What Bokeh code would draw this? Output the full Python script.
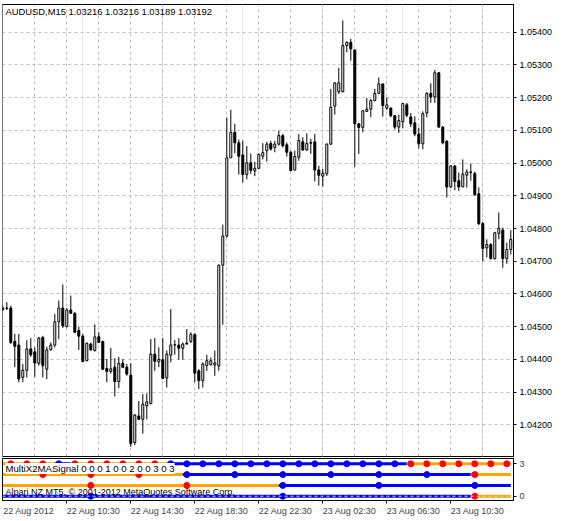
from bokeh.plotting import figure
from bokeh.models import Range1d, FixedTicker, PrintfTickFormatter, Grid, Label, Span, ColumnDataSource
from bokeh.layouts import column
from bokeh.embed import file_html
from bokeh.resources import INLINE

# ---------------- data (AUDUSD M15) ----------------
opens = [1.04552, 1.04557, 1.04557, 1.04455, 1.04444, 1.04345, 1.04367, 1.04432, 1.04423, 1.04388,
         1.04467, 1.04370, 1.04429, 1.04444, 1.04515, 1.04557, 1.04500, 1.04551, 1.04541, 1.04488,
         1.04471, 1.04396, 1.04447, 1.04427, 1.04469, 1.04455, 1.04372, 1.04363, 1.04376, 1.04332,
         1.04388, 1.04376, 1.04352, 1.04146, 1.04227, 1.04217, 1.04258, 1.04265, 1.04416, 1.04393,
         1.04399, 1.04343, 1.04413, 1.04444, 1.04444, 1.04434, 1.04450, 1.04455, 1.04476, 1.04365,
         1.04335, 1.04381, 1.04384, 1.04383, 1.04380, 1.04688, 1.04777, 1.05016, 1.05094, 1.05062,
         1.05025, 1.04965, 1.05001, 1.04976, 1.04984, 1.05021, 1.05038, 1.05060, 1.05048, 1.05058,
         1.05084, 1.05056, 1.05033, 1.04979, 1.05018, 1.05065, 1.05040, 1.05063, 1.05065, 1.04979,
         1.04960, 1.04967, 1.05058, 1.05174, 1.05218, 1.05218, 1.05359, 1.05369, 1.05346, 1.05120,
         1.05109, 1.05158, 1.05165, 1.05191, 1.05213, 1.05242, 1.05168, 1.05168, 1.05145, 1.05110,
         1.05126, 1.05178, 1.05141, 1.05123, 1.05089, 1.05059, 1.05153, 1.05213, 1.05202, 1.05276,
         1.05110, 1.05067, 1.04927, 1.04991, 1.04946, 1.04927, 1.04963, 1.04973, 1.04968, 1.04906,
         1.04815, 1.04741, 1.04751, 1.04708, 1.04785, 1.04795, 1.04708, 1.04736]
highs = [1.04564, 1.04575, 1.04564, 1.04478, 1.04478, 1.04386, 1.04459, 1.04465, 1.04437, 1.04469,
         1.04472, 1.04439, 1.04452, 1.04539, 1.04580, 1.04629, 1.04557, 1.04595, 1.04544, 1.04500,
         1.04478, 1.04452, 1.04451, 1.04507, 1.04483, 1.04457, 1.04401, 1.04435, 1.04404, 1.04408,
         1.04401, 1.04386, 1.04388, 1.04233, 1.04273, 1.04294, 1.04296, 1.04462, 1.04465, 1.04437,
         1.04465, 1.04427, 1.04554, 1.04459, 1.04465, 1.04452, 1.04493, 1.04483, 1.04480, 1.04370,
         1.04391, 1.04414, 1.04406, 1.04427, 1.04690, 1.04812, 1.05139, 1.05163, 1.05120, 1.05072,
         1.05069, 1.05052, 1.05029, 1.05004, 1.05029, 1.05061, 1.05065, 1.05068, 1.05068, 1.05099,
         1.05089, 1.05063, 1.05038, 1.05038, 1.05089, 1.05079, 1.05091, 1.05074, 1.05089, 1.04992,
         1.04982, 1.05060, 1.05227, 1.05247, 1.05291, 1.05436, 1.05372, 1.05380, 1.05346, 1.05120,
         1.05162, 1.05199, 1.05196, 1.05227, 1.05262, 1.05242, 1.05201, 1.05170, 1.05147, 1.05148,
         1.05184, 1.05184, 1.05153, 1.05143, 1.05108, 1.05158, 1.05217, 1.05244, 1.05285, 1.05278,
         1.05113, 1.05069, 1.04994, 1.04994, 1.04971, 1.05011, 1.04981, 1.04998, 1.04974, 1.04926,
         1.04820, 1.04767, 1.04755, 1.04790, 1.04849, 1.04803, 1.04757, 1.04795]
lows = [1.04548, 1.04551, 1.04447, 1.04376, 1.04330, 1.04330, 1.04345, 1.04408, 1.04347, 1.04381,
        1.04345, 1.04340, 1.04427, 1.04437, 1.04462, 1.04496, 1.04498, 1.04539, 1.04480, 1.04429,
        1.04391, 1.04394, 1.04427, 1.04424, 1.04450, 1.04368, 1.04330, 1.04357, 1.04287, 1.04312,
        1.04373, 1.04350, 1.04133, 1.04138, 1.04215, 1.04173, 1.04217, 1.04263, 1.04365, 1.04376,
        1.04340, 1.04314, 1.04391, 1.04414, 1.04399, 1.04399, 1.04445, 1.04450, 1.04330, 1.04309,
        1.04314, 1.04365, 1.04381, 1.04350, 1.04365, 1.04506, 1.04772, 1.05016, 1.05030, 1.04965,
        1.04940, 1.04950, 1.04967, 1.04960, 1.04981, 1.05011, 1.05005, 1.05038, 1.05033, 1.05053,
        1.05048, 1.05020, 1.04975, 1.04977, 1.05007, 1.05038, 1.05038, 1.05028, 1.04944, 1.04931,
        1.04928, 1.04961, 1.05055, 1.05148, 1.05211, 1.05216, 1.05339, 1.05313, 1.04989, 1.05028,
        1.05094, 1.05157, 1.05140, 1.05189, 1.05211, 1.05142, 1.05162, 1.05140, 1.05103, 1.05092,
        1.05106, 1.05140, 1.05110, 1.05082, 1.05045, 1.05042, 1.05140, 1.05184, 1.05184, 1.05108,
        1.05057, 1.04895, 1.04923, 1.04917, 1.04915, 1.04927, 1.04925, 1.04946, 1.04900, 1.04810,
        1.04700, 1.04712, 1.04705, 1.04705, 1.04767, 1.04680, 1.04692, 1.04721]
closes = [1.04557, 1.04556, 1.04452, 1.04440, 1.04340, 1.04367, 1.04432, 1.04414, 1.04389, 1.04465,
          1.04381, 1.04429, 1.04444, 1.04515, 1.04557, 1.04503, 1.04551, 1.04541, 1.04483, 1.04471,
          1.04394, 1.04449, 1.04429, 1.04469, 1.04452, 1.04370, 1.04363, 1.04371, 1.04332, 1.04388,
          1.04376, 1.04355, 1.04143, 1.04230, 1.04217, 1.04263, 1.04270, 1.04416, 1.04394, 1.04400,
          1.04342, 1.04416, 1.04444, 1.04445, 1.04434, 1.04447, 1.04447, 1.04476, 1.04358, 1.04335,
          1.04386, 1.04396, 1.04396, 1.04389, 1.04688, 1.04777, 1.05016, 1.05094, 1.05062, 1.05021,
          1.04965, 1.05001, 1.04978, 1.04984, 1.05027, 1.05032, 1.05058, 1.05043, 1.05058, 1.05084,
          1.05053, 1.05033, 1.04977, 1.05020, 1.05069, 1.05040, 1.05060, 1.05061, 1.04979, 1.04963,
          1.04969, 1.05058, 1.05170, 1.05245, 1.05245, 1.05359, 1.05369, 1.05349, 1.05120, 1.05109,
          1.05160, 1.05165, 1.05191, 1.05213, 1.05242, 1.05176, 1.05178, 1.05145, 1.05110, 1.05130,
          1.05182, 1.05146, 1.05120, 1.05089, 1.05059, 1.05151, 1.05213, 1.05202, 1.05276, 1.05110,
          1.05062, 1.04927, 1.04991, 1.04944, 1.04927, 1.04966, 1.04973, 1.04971, 1.04903, 1.04815,
          1.04739, 1.04751, 1.04708, 1.04787, 1.04801, 1.04708, 1.04736, 1.04767]

price_ticks = [1.042, 1.043, 1.044, 1.045, 1.046, 1.047, 1.048, 1.049, 1.050, 1.051, 1.052, 1.053, 1.054]
grid_bars = [8, 16, 24, 32, 40, 48, 56, 64, 72, 80, 88, 96, 104, 112, 120]
time_tick_bars = [16, 32, 48, 64, 80, 96, 112]
time_tick_labels = ["22 Aug 10:30", "22 Aug 14:30", "22 Aug 18:30", "22 Aug 22:30",
                    "23 Aug 02:30", "23 Aug 06:30", "23 Aug 10:30"]
first_label = "22 Aug 2012"
title_text = "AUDUSD,M15  1.03216 1.03216 1.03189 1.03192"
ind_text = "MultiX2MASignal 0 0 0 1 0 0 2 0 0 3 0 3"
copy_text = "Alpari NZ MT5, \u00a9 2001-2012 MetaQuotes Software Corp."

# MultiX2MASignal rows: (row level, bar index where each higher-TF bar starts, state 1=up/blue 0=down/orange)
h1_starts = [-2, 2, 6, 10, 14, 18, 22, 26, 30, 34, 38, 42, 46, 50, 54, 58, 62, 66, 70, 74, 78, 82,
             86, 90, 94, 98, 102, 106, 110, 114, 118, 122, 126]
h1_states = [0, 0, 0, 0, 1, 0, 0, 0, 0, 0, 0, 1, 1, 1, 1, 1, 1, 1, 1, 1, 1, 1,
             1, 1, 1, 1, 0, 0, 0, 0, 0, 0, 0]
h3_starts = [-2, 10, 22, 34, 46, 58, 70, 82, 94, 106, 118]
h3_states = [0, 0, 0, 0, 1, 1, 1, 1, 1, 1, 0]
h6_starts = [-2, 22, 46, 70, 94, 118]
h6_states = [0, 0, 0, 1, 1, 1]
h12_starts = [-26, 22, 70, 118]
h12_states = [1, 1, 1, 0]
rows = [(3, h1_starts, h1_states), (2, h3_starts, h3_states),
        (1, h6_starts, h6_states), (0, h12_starts, h12_states)]

# ---------------- styling / layout ----------------
FONT = "Liberation Sans"
GRID_COLOR = "#c0c0c0"
BLUE = "#0000ff"
ORANGE = "#ffa500"
RED = "#ff0000"

n = len(opens)
bars = list(range(n))
X_RANGE = (-0.075, 127.675)
PX_PER_BAR = 511 / (X_RANGE[1] - X_RANGE[0])

src = ColumnDataSource(dict(
    k=bars, low=lows, high=highs,
    top=[max(o, c) for o, c in zip(opens, closes)],
    bottom=[min(o, c) for o, c in zip(opens, closes)],
    fill=["white" if c >= o else "black" for o, c in zip(opens, closes)],
))

# main chart: frame x 2..513, y 4..456
p1 = figure(width=560, height=457, x_range=Range1d(*X_RANGE), y_range=Range1d(1.041032, 1.054847),
            x_axis_location=None, y_axis_location="right", toolbar_location=None, tools="",
            output_backend="svg", min_border_left=2, min_border_right=47,
            min_border_top=4, min_border_bottom=1)
p1.background_fill_color = "white"
p1.border_fill_color = "white"
p1.outline_line_color = "black"
p1.outline_line_width = 1

ax = p1.yaxis[0]
ax.ticker = FixedTicker(ticks=price_ticks)
ax.formatter = PrintfTickFormatter(format="%.5f")
ax.major_tick_in = 0
ax.major_tick_out = 3
ax.minor_tick_in = 0
ax.minor_tick_out = 0
ax.axis_line_color = "black"
ax.major_tick_line_color = "black"
ax.major_label_text_font = FONT
ax.major_label_text_font_size = "9px"
ax.major_label_text_color = "black"
ax.major_label_standoff = 3

for g in p1.ygrid:
    g.grid_line_color = GRID_COLOR
    g.grid_line_dash = "3 3"
p1.add_layout(Grid(dimension=0, ticker=FixedTicker(ticks=grid_bars),
                   grid_line_color=GRID_COLOR, grid_line_dash="3 3"))

p1.segment(x0="k", y0="low", x1="k", y1="high", source=src, line_color="black", line_width=1)
p1.vbar(x="k", width=0.5, top="top", bottom="bottom", source=src,
        fill_color="fill", line_color="black", line_width=1)

p1.add_layout(Label(x=3, y=445, x_units="screen", y_units="screen", text=title_text,
                    text_font=FONT, text_font_size="9.4px", text_color="black",
                    text_baseline="middle", text_align="left"))

# indicator sub window: frame y 458..500
p2 = figure(width=560, height=62, x_range=p1.x_range, y_range=Range1d(-0.398, 3.491),
            x_axis_location="below", y_axis_location="right", toolbar_location=None, tools="",
            output_backend="svg", min_border_left=2, min_border_right=47,
            min_border_top=1, min_border_bottom=19)
p2.background_fill_color = "white"
p2.border_fill_color = "white"
p2.outline_line_color = "black"
p2.outline_line_width = 1
p2.xgrid.visible = False
p2.ygrid.visible = False

for level, starts, states in rows:
    per_bar = []
    for k in bars:
        s = states[0]
        for st, v in zip(starts, states):
            if st <= k:
                s = v
        per_bar.append(s)
    xs_list, ys_list, cols = [], [], []
    a = 0
    while a < n:
        b = a
        while b + 1 < n and per_bar[b + 1] == per_bar[a]:
            b += 1
        xs = list(range(max(a - 1, 0), b + 1))
        xs_list.append(xs)
        ys_list.append([level] * len(xs))
        cols.append(BLUE if per_bar[a] == 1 else ORANGE)
        a = b + 1
    p2.multi_line(xs=xs_list, ys=ys_list, line_color=cols, line_width=3)
    dx = [st for st in starts if 0 <= st < n]
    dc = [BLUE if v == 1 else RED for st, v in zip(starts, states) if 0 <= st < n]
    p2.scatter(x=dx, y=[level] * len(dx), size=6, fill_color=dc, line_color=dc, marker="circle")

p2.add_layout(Span(location=0, dimension="width", line_color="#d0d0d0", line_dash="3 3", line_width=1))

ay = p2.yaxis[0]
ay.ticker = FixedTicker(ticks=[0, 3])
ay.formatter = PrintfTickFormatter(format="%d")
ay.major_tick_in = 0
ay.major_tick_out = 3
ay.minor_tick_out = 0
ay.axis_line_color = "black"
ay.major_label_text_font = FONT
ay.major_label_text_font_size = "9px"
ay.major_label_standoff = 3

# x axis: tick marks (minor ticks) at the real times, left-aligned labels placed via major ticks
label_w = 53.5 / PX_PER_BAR / 2
first_center = round(X_RANGE[0] + (0.7 + 25.5) / PX_PER_BAR, 2)
centers = [first_center] + [round(t + label_w, 2) for t in time_tick_bars]
overrides = {c: t for c, t in zip(centers, [first_label] + time_tick_labels)}
axx = p2.xaxis[0]
axx.ticker = FixedTicker(ticks=centers, minor_ticks=time_tick_bars)
axx.major_label_overrides = overrides
axx.major_tick_in = 0
axx.major_tick_out = 0
axx.minor_tick_in = 0
axx.minor_tick_out = 3
axx.minor_tick_line_color = "black"
axx.axis_line_color = "black"
axx.major_label_text_font = FONT
axx.major_label_text_font_size = "9px"
axx.major_label_standoff = 2

p2.add_layout(Label(x=3, y=32, x_units="screen", y_units="screen", text=ind_text,
                    text_font=FONT, text_font_size="9.6px", text_color="black",
                    text_baseline="middle", text_align="left",
                    background_fill_color="white", padding=0))
p2.add_layout(Label(x=3, y=8.3, x_units="screen", y_units="screen", text=copy_text,
                    text_font=FONT, text_font_size="9px", text_color="black",
                    text_baseline="middle", text_align="left"))

layout = column(p1, p2, spacing=0)
open("out.html", "w").write(file_html(layout, INLINE))
